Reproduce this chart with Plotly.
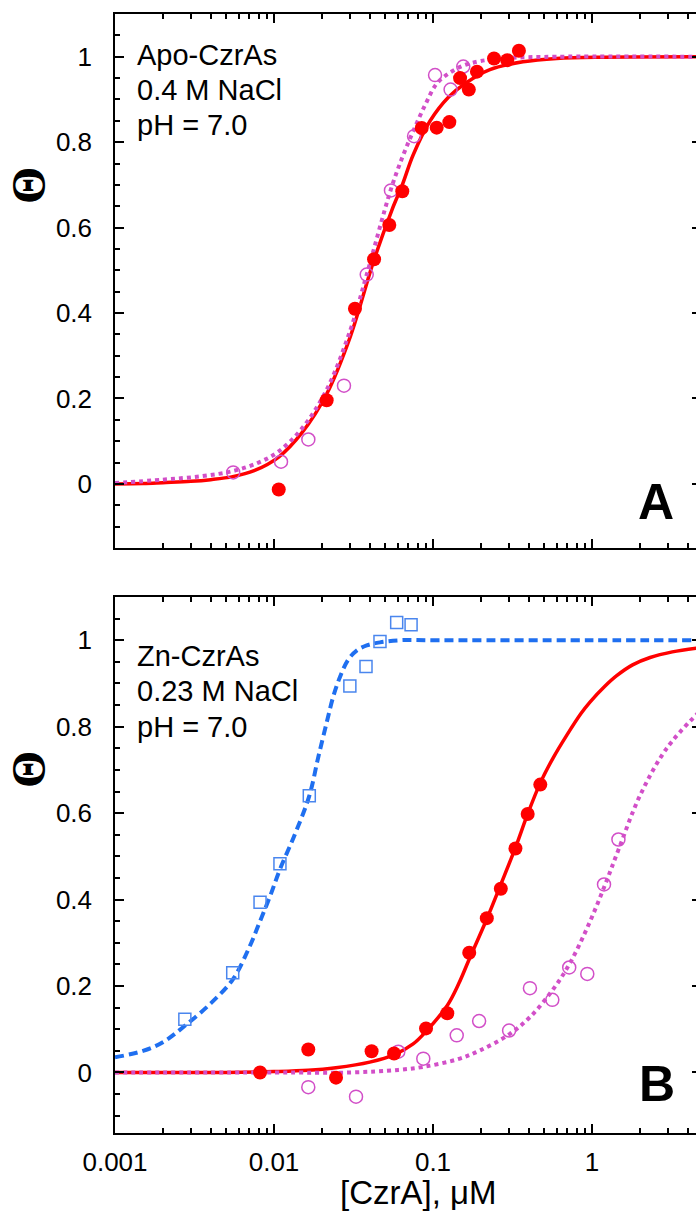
import plotly.graph_objects as go

W, H = 696, 1212

# ---------------- Panel A data ----------------
a_fill_x = [0.01071, 0.02144, 0.0323, 0.0426, 0.0531, 0.0641, 0.0849, 0.1055, 0.1267,
            0.148, 0.168, 0.189, 0.242, 0.293, 0.347]
a_fill_y = [-0.013, 0.196, 0.41, 0.526, 0.606, 0.685, 0.833, 0.834, 0.847,
            0.95, 0.923, 0.965, 0.996, 0.992, 1.014]
a_open_x = [0.00554, 0.01107, 0.01644, 0.02755, 0.0383, 0.0544, 0.076, 0.103, 0.129, 0.155]
a_open_y = [0.027, 0.052, 0.104, 0.23, 0.49, 0.687, 0.814, 0.957, 0.923, 0.977]

a_red_x = [0.001, 0.0015, 0.002, 0.003, 0.004, 0.0055, 0.0075, 0.0107, 0.015, 0.0214, 0.0302,
           0.0426, 0.055, 0.0641, 0.075, 0.096, 0.125, 0.16, 0.228, 0.368, 0.6, 1.2, 4.6]
a_red_y = [0.0, 0.001, 0.003, 0.006, 0.01, 0.017, 0.031, 0.063, 0.12, 0.21, 0.345,
           0.525, 0.64, 0.7, 0.77, 0.85, 0.905, 0.938, 0.97, 0.988, 0.996, 0.999, 1.0]
a_mag_x = [0.001, 0.002, 0.0035, 0.0055, 0.008, 0.0107, 0.015, 0.0214, 0.0302, 0.0383,
           0.0544, 0.065, 0.076, 0.09, 0.1055, 0.128, 0.155, 0.2, 0.3, 0.6, 4.6]
a_mag_y = [0.002, 0.01, 0.018, 0.03, 0.05, 0.076, 0.13, 0.22, 0.36, 0.49,
           0.69, 0.77, 0.83, 0.89, 0.937, 0.963, 0.979, 0.99, 0.997, 1.0, 1.0]

# ---------------- Panel B data ----------------
b_sq_x = [0.00275, 0.0055, 0.00817, 0.0109, 0.01667, 0.0300, 0.0379, 0.0464, 0.0591, 0.0728]
b_sq_y = [0.123, 0.231, 0.394, 0.483, 0.640, 0.894, 0.939, 0.997, 1.041, 1.036]
b_fill_x = [0.00817, 0.01643, 0.02455, 0.0411, 0.0569, 0.0904, 0.123, 0.169, 0.218,
            0.267, 0.33, 0.394, 0.473]
b_fill_y = [0.0, 0.053, -0.012, 0.049, 0.044, 0.102, 0.137, 0.277, 0.357,
            0.425, 0.518, 0.598, 0.666]
b_open_x = [0.01643, 0.0328, 0.0605, 0.0869, 0.141, 0.195, 0.301, 0.407, 0.563,
            0.719, 0.934, 1.19, 1.466]
b_open_y = [-0.034, -0.056, 0.048, 0.032, 0.086, 0.119, 0.097, 0.195, 0.168,
            0.243, 0.228, 0.435, 0.539]

b_blue_x = [0.001, 0.0015, 0.002, 0.00275, 0.004, 0.0055, 0.007, 0.00817, 0.0095, 0.0109,
            0.0135, 0.01667, 0.019, 0.02146, 0.0236, 0.026, 0.0293, 0.0331, 0.0383, 0.0464,
            0.062, 0.1, 1.0, 4.6]
b_blue_y = [0.035, 0.05, 0.07, 0.108, 0.16, 0.215, 0.29, 0.35, 0.41, 0.47,
            0.55, 0.64, 0.73, 0.81, 0.87, 0.915, 0.955, 0.976, 0.988, 0.995,
            1.0, 1.0, 1.0, 1.0]
b_red_x = [0.001, 0.005, 0.01, 0.0164, 0.0245, 0.04, 0.0577, 0.075, 0.0904, 0.123, 0.145,
           0.169, 0.218, 0.267, 0.33, 0.394, 0.473, 0.57, 0.693, 0.85, 0.971, 1.2, 1.43,
           1.8, 2.32, 3.2, 4.6]
b_red_y = [0.0, 0.0, 0.002, 0.005, 0.011, 0.024, 0.042, 0.066, 0.095, 0.155, 0.205,
           0.262, 0.355, 0.435, 0.52, 0.598, 0.67, 0.728, 0.78, 0.83, 0.857, 0.893, 0.918,
           0.943, 0.96, 0.973, 0.982]
b_mag_x = [0.001, 0.01, 0.03, 0.0605, 0.0869, 0.141, 0.195, 0.301, 0.407, 0.563, 0.719,
           0.934, 1.19, 1.466, 2.0, 2.95, 4.6]
b_mag_y = [0.0, 0.0, 0.0, 0.006, 0.013, 0.03, 0.05, 0.088, 0.128, 0.19, 0.25,
           0.335, 0.428, 0.515, 0.64, 0.75, 0.83]

# ---------------- Text ----------------
a_text = ["Apo-CzrAs", "0.4 M NaCl", "pH = 7.0"]
b_text = ["Zn-CzrAs", "0.23 M NaCl", "pH = 7.0"]
x_major = [0.001, 0.01, 0.1, 1]
x_major_text = ["0.001", "0.01", "0.1", "1"]
x_title = "[CzrA], μM"

RED = "#FF0000"
MAG = "#D24FC8"
BLUE = "#1F6FF0"
SQ = "#4A86EE"

fig = go.Figure()

def add_panel(xa, ya, curves, markers):
    for cx, cy, color, dash, w in curves:
        fig.add_trace(go.Scatter(x=cx, y=cy, mode="lines", xaxis=xa, yaxis=ya,
                                 line=dict(color=color, width=w, dash=dash, shape="spline", smoothing=1.0),
                                 showlegend=False, hoverinfo="skip"))
    for mx, my, sym, color, size in markers:
        if sym.endswith("open"):
            mk = dict(symbol=sym, size=size, color=color, line=dict(color=color, width=1.5))
        else:
            mk = dict(symbol=sym, size=size, color=color, line=dict(width=0))
        fig.add_trace(go.Scatter(x=mx, y=my, mode="markers", xaxis=xa, yaxis=ya,
                                 marker=mk, showlegend=False, hoverinfo="skip", cliponaxis=False))

add_panel("x", "y",
          [(a_red_x, a_red_y, RED, "solid", 3.5), (a_mag_x, a_mag_y, MAG, "dot", 4)],
          [(a_open_x, a_open_y, "circle-open", MAG, 13), (a_fill_x, a_fill_y, "circle", RED, 14)])
add_panel("x2", "y2",
          [(b_blue_x, b_blue_y, BLUE, "9px,5px", 4), (b_red_x, b_red_y, RED, "solid", 3.5),
           (b_mag_x, b_mag_y, MAG, "dot", 4)],
          [(b_sq_x, b_sq_y, "square-open", SQ, 12), (b_open_x, b_open_y, "circle-open", MAG, 13),
           (b_fill_x, b_fill_y, "circle", RED, 14)])

# dummy traces for right-hand tick axes
fig.add_trace(go.Scatter(x=[None], y=[None], xaxis="x", yaxis="y3", showlegend=False, hoverinfo="skip"))
fig.add_trace(go.Scatter(x=[None], y=[None], xaxis="x2", yaxis="y4", showlegend=False, hoverinfo="skip"))

xdom = [115 / W, 1.0]
xr = [-3, (W - 115) / 159.0 - 3]
dA = [1 - 548 / H, 1 - 14 / H]
dB = [1 - 1133 / H, 1 - 597 / H]
rA = [-0.15, 1.1]
rB = [-0.14, 1.1]

minor_x = [m * 10 ** e for e in range(-3, 1) for m in range(2, 10)]
tickfont = dict(family="Liberation Sans, Arial, sans-serif", size=26, color="black")

def xaxis(anchor, labels):
    return dict(type="log", range=xr, domain=xdom, anchor=anchor, automargin=False,
                showline=True, linecolor="black", linewidth=1.5, mirror="ticks",
                ticks="inside", ticklen=9, tickwidth=1.5, tickcolor="black",
                tickmode="array", tickvals=x_major, ticktext=x_major_text,
                showticklabels=labels, tickfont=tickfont, ticklabelstandoff=5,
                minor=dict(tickmode="array", tickvals=minor_x, ticks="inside", ticklen=5,
                           tickwidth=1.5, tickcolor="black"),
                showgrid=False, zeroline=False)

def yaxis(anchor, dom, rng):
    return dict(range=rng, domain=dom, anchor=anchor, automargin=False,
                showline=True, linecolor="black", linewidth=1.5, mirror=False,
                ticks="inside", ticklen=9, tickwidth=1.5, tickcolor="black",
                tick0=0, dtick=0.2, tickfont=tickfont, ticklabelstandoff=16,
                minor=dict(tick0=0, dtick=0.05, ticks="inside", ticklen=5, tickwidth=1.5,
                           tickcolor="black"),
                showgrid=False, zeroline=False)

def yright(anchor, over, rng):
    return dict(range=rng, overlaying=over, anchor=anchor, side="right", automargin=False,
                showline=False, ticks="inside", ticklen=4, tickwidth=1.5, tickcolor="black",
                tick0=0, dtick=0.2, showticklabels=False, showgrid=False, zeroline=False)

fig.update_layout(
    width=W, height=H, margin=dict(l=0, r=0, t=0, b=0, autoexpand=False),
    paper_bgcolor="white", plot_bgcolor="white", showlegend=False,
    xaxis=xaxis("y", False), yaxis=yaxis("x", dA, rA),
    xaxis2=xaxis("y2", True), yaxis2=yaxis("x2", dB, rB),
    yaxis3=yright("x", "y", rA), yaxis4=yright("x2", "y2", rB),
)

ann_font = dict(family="Liberation Sans, Arial, sans-serif", size=29, color="black")
for i, t in enumerate(a_text):
    fig.add_annotation(x=135 / W, y=1 - (55 + 35 * i) / H, xref="paper", yref="paper",
                       text=t, showarrow=False, xanchor="left", yanchor="middle", font=ann_font)
for i, t in enumerate(b_text):
    fig.add_annotation(x=135 / W, y=1 - (656 + 35.5 * i) / H, xref="paper", yref="paper",
                       text=t, showarrow=False, xanchor="left", yanchor="middle", font=ann_font)

big = dict(family="Liberation Sans, Arial, sans-serif", size=50, color="black")
fig.add_annotation(x=656 / W, y=1 - 502 / H, xref="paper", yref="paper", text="<b>A</b>",
                   showarrow=False, xanchor="center", yanchor="middle", font=big)
fig.add_annotation(x=657 / W, y=1 - 1084 / H, xref="paper", yref="paper", text="<b>B</b>",
                   showarrow=False, xanchor="center", yanchor="middle", font=big)

theta_font = dict(family="Liberation Serif, Times New Roman, serif", size=48, color="black")
for yc in (186, 770):
    fig.add_annotation(x=28 / W, y=1 - yc / H, xref="paper", yref="paper", text="<b>Θ</b>",
                       textangle=-90, showarrow=False, xanchor="center", yanchor="middle",
                       font=theta_font)

fig.add_annotation(x=418 / W, y=0, xref="paper", yref="paper", text=x_title,
                   showarrow=False, xanchor="center", yanchor="bottom", borderpad=0,
                   font=dict(family="Liberation Sans, Arial, sans-serif", size=33, color="black"))

fig.write_html("out.html")
